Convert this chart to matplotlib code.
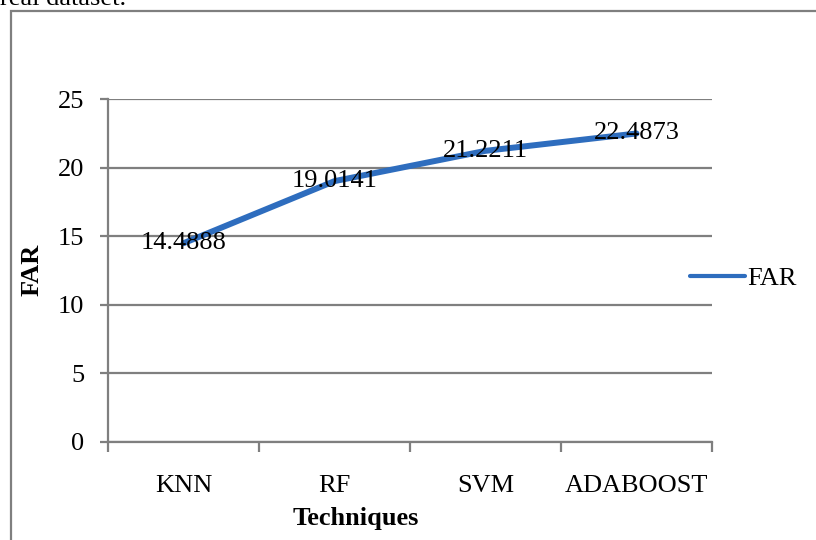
import matplotlib.pyplot as plt
from matplotlib.patches import Rectangle

techniques = ['KNN', 'RF', 'SVM', 'ADABOOST']
far_values = [14.4888, 19.0141, 21.2211, 22.4873]
y_ticks = [0, 5, 10, 15, 20, 25]

plt.rcParams['font.family'] = ['Liberation Serif', 'DejaVu Serif']
FS = 19

W, H = 816, 540
fig = plt.figure(figsize=(W / 100, H / 100), dpi=100)

# outer chart frame (runs off the right and bottom of the crop)
fig.patches.append(Rectangle((11 / W, -0.2), 1.2, 1.2 - 11 / H,
                             transform=fig.transFigure, fill=False,
                             edgecolor='#7f7f7f', linewidth=1.6))
fig.text(0.0, 1 - 5 / H, 'real dataset.', fontsize=FS, va='baseline', ha='left')

ax = fig.add_axes([108 / W, 1 - 442 / H, (712 - 108) / W, (442 - 99) / H])
x = list(range(len(techniques)))
ax.plot(x, far_values, color='#2E6DBE', linewidth=4.3, solid_capstyle='round',
        label='FAR', zorder=3)
for xi, v in zip(x, far_values):
    ax.text(xi, v, str(v), ha='center', va='center', fontsize=FS, zorder=4)

ax.set_xlim(-0.5, len(techniques) - 0.5)
ax.set_ylim(0, 25)
ax.set_yticks(y_ticks)
ax.set_xticks(x)
ax.set_xticklabels(techniques)
ax.set_xticks([i - 0.5 for i in range(len(techniques) + 1)], minor=True)
ax.tick_params(axis='x', which='major', length=0, pad=24, labelsize=FS)
ax.tick_params(axis='x', which='minor', length=7, width=1.6, color='#7f7f7f')
ax.tick_params(axis='y', length=6, width=1.6, color='#7f7f7f', pad=11, labelsize=FS)
ax.grid(axis='y', color='#7f7f7f', linewidth=1.6)
ax.set_axisbelow(True)
for s in ['top', 'right']:
    ax.spines[s].set_visible(False)
for s in ['left', 'bottom']:
    ax.spines[s].set_color('#7f7f7f')
    ax.spines[s].set_linewidth(1.6)

fig.text(32 / W, 1 - 270 / H, 'FAR', rotation=90, fontsize=FS, fontweight='bold',
         ha='center', va='center')
fig.text(356 / W, 1 - 519 / H, 'Techniques', fontsize=FS, fontweight='bold',
         ha='center', va='center')

leg = ax.legend(loc='center left', bbox_to_anchor=(0.963, 0.478), frameon=False,
                fontsize=FS, handlelength=2.1, handletextpad=0.1, borderpad=0,
                borderaxespad=0)
leg.get_lines()[0].set_linewidth(3)

fig.savefig('out.png', dpi=100)
